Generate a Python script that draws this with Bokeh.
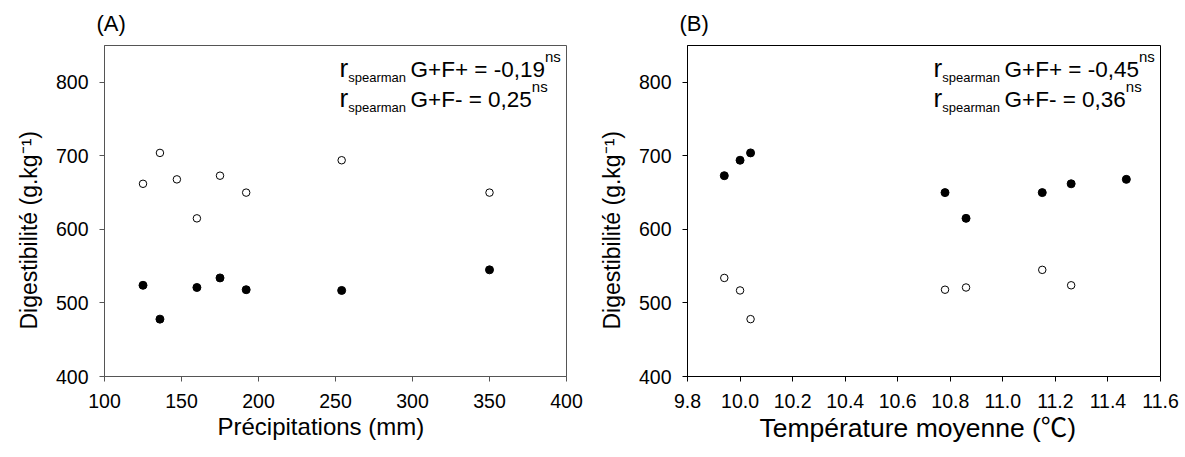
import math
from bokeh.plotting import figure
from bokeh.models import Label, Range1d, FixedTicker, NumeralTickFormatter, Title
from bokeh.layouts import row
from bokeh.embed import file_html
from bokeh.resources import INLINE

# ---------------- data ----------------
# one entry per site (same sites in both panels)
site_precip = [125, 136, 147, 160, 175, 192, 254, 350]               # mm
site_temp = [11.26, 10.04, 11.47, 10.86, 9.94, 10.78, 10.00, 11.15]  # deg C
dig_high = [662, 704, 668, 615, 673, 650, 694, 650]                  # g/kg
dig_low = [524, 478, None, 521, 534, 518, 517, 545]                  # g/kg

x_ticks_A = [100, 150, 200, 250, 300, 350, 400]
x_ticks_B = [9.8, 10.0, 10.2, 10.4, 10.6, 10.8, 11.0, 11.2, 11.4, 11.6]
y_ticks = [400, 500, 600, 700, 800]
x_range_A = (100, 400)
x_range_B = (9.8, 11.6)
y_range = (400, 850)

panel_labels = ["(A)", "(B)"]
x_titles = ["Précipitations (mm)", "Température moyenne (℃)"]
y_title = "Digestibilité (g.kg⁻¹)"
corr_A = ["G+F+ = -0,19", "G+F- = 0,25"]
corr_B = ["G+F+ = -0,45", "G+F- = 0,36"]
corr_r = "r"
corr_sub = "spearman"
corr_sup = "ns"

FONT = "Liberation Sans"
FONT_STACK = "'Liberation Sans', 'Noto Sans CJK SC', sans-serif"

# Arial / Liberation Sans advance widths (per 1000 em)
W = {" ": 278, "(": 333, ")": 333, "+": 584, ",": 278, "-": 333, ".": 278,
     "=": 584, "G": 778, "F": 611, "a": 556, "e": 556, "m": 833, "n": 556,
     "p": 556, "r": 333, "s": 500}
for d in "0123456789":
    W[d] = 556


def tw(s, size):
    return sum(W.get(c, 556) for c in s) / 1000.0 * size


FRAME_H = 331
BORDER_TOP = 45
BORDER_BOTTOM = 80


def make_panel(xr, xticks, xfmt, fig_left_page, border_left, frame_w,
               border_right, axis_color, xs_open, ys_open, xs_fill, ys_fill,
               label, xtitle, xtitle_left, xtitle_size, corr):
    p = figure(frame_width=frame_w, frame_height=FRAME_H,
               min_border_left=border_left, min_border_right=border_right,
               min_border_top=BORDER_TOP, min_border_bottom=BORDER_BOTTOM,
               x_range=Range1d(*xr), y_range=Range1d(*y_range),
               output_backend="svg", toolbar_location=None,
               background_fill_color="white", border_fill_color="white")
    p.xgrid.visible = False
    p.ygrid.visible = False
    p.outline_line_color = axis_color
    p.outline_line_width = 1
    p.outline_line_alpha = 1.0
    for ax in (p.xaxis[0], p.yaxis[0]):
        ax.axis_line_color = axis_color
        ax.major_tick_line_color = axis_color
        ax.minor_tick_line_color = None
        ax.major_tick_in = 0
        ax.major_tick_out = 5
        ax.major_label_text_font = FONT
        ax.major_label_text_font_size = "19.5px"
        ax.major_label_text_color = "black"
    p.xaxis[0].ticker = FixedTicker(ticks=xticks)
    p.xaxis[0].formatter = NumeralTickFormatter(format=xfmt)
    p.xaxis[0].major_label_standoff = 12
    p.yaxis[0].ticker = FixedTicker(ticks=y_ticks)
    p.yaxis[0].major_label_standoff = 11

    p.scatter(xs_fill, ys_fill, marker="circle", size=8, fill_color="black",
              line_color="black", line_width=1)
    p.scatter(xs_open, ys_open, marker="circle", size=7.5, fill_color="white",
              line_color="black", line_width=1)

    # panel label (A)/(B)
    p.title.text = label
    p.title.align = "left"
    p.title.vertical_align = "middle"
    p.title.offset = -8
    p.title.standoff = 17
    p.title.text_font = FONT
    p.title.text_font_size = "22px"
    p.title.text_font_style = "normal"
    p.title.text_color = "black"

    # x axis title
    p.add_layout(Title(text=xtitle, align="left", offset=xtitle_left,
                       standoff=0, text_font=FONT_STACK,
                       text_font_size=f"{xtitle_size}px",
                       text_font_style="normal", text_color="black"), "below")
    # y axis title (starts 47px above frame bottom)
    p.add_layout(Title(text=y_title, align="left", offset=47,
                       standoff=21, text_font=FONT, text_font_size="23px",
                       text_font_style="normal", text_color="black"), "left")

    # page-pixel -> data helpers for in-frame text placement
    frame_left = fig_left_page + border_left
    frame_top = BORDER_TOP
    x0, x1 = xr
    y0, y1 = y_range

    def dx(px):
        return x0 + (px - frame_left) / frame_w * (x1 - x0)

    def dy(py):
        return y1 - (py - frame_top) / FRAME_H * (y1 - y0)

    def txt(px, py, s, size, align="left"):
        p.add_layout(Label(x=dx(px), y=dy(py), text=s, text_font=FONT,
                           text_font_size=f"{size}px", text_align=align,
                           text_baseline="alphabetic", text_color="black"))

    frame_right = frame_left + frame_w
    main_size, sub_size, r_size, sup_size = 22.5, 13, 26, 15
    x_main = frame_right - 156
    x_sub = x_main - 4.5 - tw(corr_sub, sub_size)
    for i, line in enumerate(corr):
        base = frame_top + 24 + i * 30
        txt(x_sub, base - 1.5, corr_r, r_size, align="right")
        txt(x_sub, base + 7.5, corr_sub, sub_size)
        txt(x_main, base, line, main_size)
        txt(x_main + tw(line, main_size), base - 13.5, corr_sup, sup_size)
    return p


low_idx = [i for i, v in enumerate(dig_low) if v is not None]
low_precip = [site_precip[i] for i in low_idx]
low_temp = [site_temp[i] for i in low_idx]
low_dig = [dig_low[i] for i in low_idx]

# panel A: open = high series, filled = low series
A_LEFT, A_FRAME, A_RIGHT = 104, 462, 20
pA = make_panel(x_range_A, x_ticks_A, "0", 0, A_LEFT, A_FRAME, A_RIGHT, "#555555",
                site_precip, dig_high, low_precip, low_dig,
                panel_labels[0], x_titles[0], 113, 24, corr_A)
widthA = A_LEFT + A_FRAME + A_RIGHT
# panel B: filled = high series, open = low series
pB = make_panel(x_range_B, x_ticks_B, "0.0", widthA, 685 - widthA, 473, 20, "black",
                low_temp, low_dig, site_temp, dig_high,
                panel_labels[1], x_titles[1], 72, 26.5, corr_B)

layout = row(pA, pB)
open("out.html", "w").write(file_html(layout, INLINE))
